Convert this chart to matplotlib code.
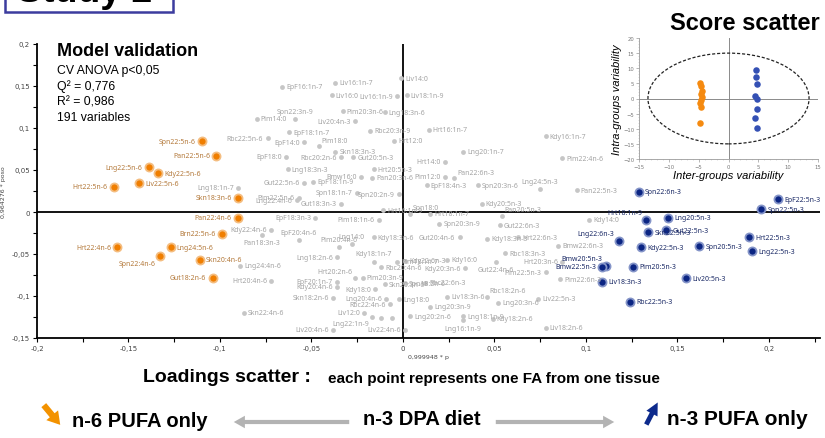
import matplotlib.pyplot as plt
from matplotlib.patches import Ellipse, Rectangle, FancyArrowPatch
from matplotlib.ticker import MultipleLocator, FuncFormatter

# loadings of the n-6 markers (orange)
n6_names = ['Spn22:5n-6', 'Pan22:5n-6', 'Lng22:5n-6', 'Kdy22:5n-6', 'Liv22:5n-6', 'Hrt22:5n-6',
            'Skn18:3n-6', 'Pan22:4n-6', 'Brn22:5n-6', 'Hrt22:4n-6', 'Lng24:5n-6', 'Spn22:4n-6',
            'Skn20:4n-6', 'Gut18:2n-6']
n6_x = [-0.110, -0.102, -0.139, -0.134, -0.144, -0.158, -0.090, -0.090, -0.099, -0.156, -0.127,
        -0.133, -0.111, -0.104]
n6_y = [0.084, 0.067, 0.053, 0.046, 0.034, 0.030, 0.017, -0.007, -0.026, -0.042, -0.042,
        -0.052, -0.057, -0.078]
n6_side = ['l', 'l', 'l', 'r', 'r', 'l', 'l', 'l', 'l', 'l', 'r', 'bl', 'r', 'l']

# loadings of the n-3 markers (blue)
n3_names = ['Spn22:6n-3', 'EpF22:5n-3', 'Spn22:5n-3', 'Hrt18:1n-9', 'Lng20:5n-3', 'Lng22:6n-3',
            'Skn22:5n-3', 'Gut22:5n-3', 'Kdy22:5n-3', 'Spn20:5n-3', 'Hrt22:5n-3', 'Lng22:5n-3',
            'Bmw20:5n-3', 'Bmw22:5n-3', 'Pim20:5n-3', 'Liv18:3n-3', 'Liv20:5n-3', 'Rbc22:5n-3']
n3_x = [0.129, 0.205, 0.196, 0.133, 0.145, 0.118, 0.134, 0.144, 0.130, 0.162, 0.189, 0.191,
        0.111, 0.109, 0.126, 0.109, 0.155, 0.124]
n3_y = [0.024, 0.015, 0.003, -0.010, -0.007, -0.035, -0.024, -0.022, -0.042, -0.041, -0.030,
        -0.047, -0.064, -0.065, -0.065, -0.083, -0.079, -0.107]
n3_side = ['r', 'r', 'r', 'al', 'r', 'al', 'r', 'r', 'r', 'r', 'r', 'r', 'al', 'l', 'r', 'r', 'r', 'r']

# other variables (grey)
oth_names = ['EpF16:1n-7', 'Liv16:1n-7', 'Liv16:0', 'Liv16:1n-9', 'Liv14:0', 'Liv18:1n-9',
             'Spn22:3n-9', 'Pim14:0', 'Pim20:3n-6', 'Lng18:3n-6', 'Liv20:4n-3', 'Rbc20:3n-9',
             'Hrt12:0', 'EpF18:1n-7', 'Rbc22:5n-6', 'EpF14:0', 'Pim18:0', 'EpF18:0',
             'Skn18:3n-3', 'Rbc20:2n-6', 'Gut20:5n-3', 'Lng18:3n-3', 'Hrt20:5n-3', 'Pan20:3n-6',
             'Bmw16:0', 'EpF18:1n-9', 'Gut22:5n-6', 'Spn18:1n-7', 'Spn20:2n-9', 'Pim22:5n-6',
             'Lng22:4n-6', 'Lng18:1n-7', 'Gut18:3n-3', 'Hrt16:1n-9', 'EpF18:3n-3', 'Kdy22:4n-6',
             'EpF20:4n-6', 'Pan18:3n-3', 'Spn18:0', 'Pim18:1n-6', 'Lng14:0', 'Pim20:4n-6',
             'Kdy18:3n-6', 'Kdy18:1n-7', 'Lng18:2n-6', 'Lng24:4n-6', 'Hrt20:4n-6', 'Hrt20:2n-6',
             'Rbc20:4n-6', 'Pim18:1n-7', 'Pim20:3n-9', 'EpF20:1n-7', 'Kdy20:4n-6', 'Skn20:3n-6',
             'Kdy18:0', 'Skn18:2n-6', 'Lng20:4n-6', 'Rbc22:4n-6', 'Skn22:4n-6', 'Liv12:0',
             'Lng22:1n-9', 'Liv20:4n-6', 'Liv22:4n-6',
             'Hrt16:1n-7', 'Kdy16:1n-7', 'Lng20:1n-7', 'Pim22:4n-6', 'Hrt14:0', 'Pan22:6n-3',
             'Pim12:0', 'EpF18:4n-3', 'Lng24:5n-3', 'Pan22:5n-3', 'Spn20:3n-6', 'Hrt18:1n-7',
             'Kdy20:5n-3', 'Pan20:5n-3', 'Kdy14:0', 'Gut22:6n-3', 'Spn20:3n-9', 'Gut20:4n-6',
             'Kdy18:3n-3', 'Hrt22:6n-3', 'Bmw22:6n-3', 'Rbc18:3n-3', 'Hrt20:3n-6', 'Kdy16:0',
             'Kdy22:6n-3', 'Kdy20:3n-6', 'Gut22:4n-6', 'Pim22:5n-3', 'Pim22:6n-3', 'Rbc22:6n-3',
             'Spn18:2n-6', 'Rbc18:2n-6', 'Liv22:5n-3', 'Lng20:3n-6', 'Liv18:3n-6', 'Lng20:3n-9',
             'Lng18:1n-9', 'Kdy18:2n-6', 'Lng16:1n-9', 'Liv18:2n-6', 'Lng20:2n-6', 'Lng18:0',
             '', '']
oth_x = [-0.066, -0.037, -0.039, -0.003, -0.001, 0.002,
         -0.059, -0.080, -0.033, -0.010, -0.026, -0.018,
         -0.005, -0.062, -0.074, -0.054, -0.046, -0.064,
         -0.037, -0.034, -0.027, -0.063, -0.016, -0.017,
         -0.023, -0.049, -0.054, -0.025, -0.002, -0.057,
         -0.058, -0.090, -0.034, -0.011, -0.048, -0.072,
         -0.057, -0.077, 0.004, -0.013, -0.028, -0.035,
         -0.016, -0.016, -0.036, -0.089, -0.072, -0.026,
         -0.012, -0.003, -0.022, -0.036, -0.036, -0.010,
         -0.015, -0.038, -0.009, -0.007, -0.087, -0.021,
         -0.017, -0.038, 0.001,
         0.014, 0.078, 0.033, 0.087, 0.023, 0.028,
         0.023, 0.013, 0.075, 0.095, 0.041, 0.015,
         0.043, 0.054, 0.102, 0.053, 0.020, 0.031,
         0.046, 0.063, 0.085, 0.056, 0.087, 0.024,
         0.001, 0.034, 0.051, 0.078, 0.086, 0.012,
         0.001, 0.046, 0.074, 0.052, 0.024, 0.015,
         0.033, 0.049, 0.033, 0.078, 0.004, -0.002,
         -0.012, -0.006]
oth_y = [0.149, 0.154, 0.139, 0.138, 0.159, 0.139,
         0.111, 0.111, 0.120, 0.119, 0.108, 0.097,
         0.085, 0.095, 0.088, 0.083, 0.078, 0.066,
         0.072, 0.065, 0.065, 0.051, 0.051, 0.041,
         0.042, 0.036, 0.035, 0.023, 0.021, 0.017,
         0.014, 0.029, 0.010, 0.002, -0.007, -0.021,
         -0.033, -0.027, -0.002, -0.009, -0.038, -0.042,
         -0.030, -0.059, -0.054, -0.064, -0.082, -0.078,
         -0.066, -0.059, -0.078, -0.083, -0.089, -0.086,
         -0.092, -0.102, -0.103, -0.110, -0.120, -0.120,
         -0.125, -0.140, -0.140,
         0.098, 0.090, 0.072, 0.064, 0.060, 0.040,
         0.042, 0.032, 0.027, 0.026, 0.032, -0.002,
         0.010, -0.005, -0.009, -0.016, -0.014, -0.030,
         -0.032, -0.030, -0.040, -0.049, -0.059, -0.057,
         -0.058, -0.067, -0.059, -0.072, -0.080, -0.084,
         -0.085, -0.101, -0.103, -0.108, -0.101, -0.113,
         -0.124, -0.127, -0.129, -0.138, -0.124, -0.104,
         -0.126, -0.126]
oth_side = ['r', 'r', 'r', 'l', 'r', 'r',
            'a', 'r', 'r', 'r', 'l', 'r',
            'r', 'r', 'l', 'l', 'ar', 'l',
            'r', 'l', 'r', 'r', 'r', 'r',
            'l', 'r', 'l', 'l', 'l', 'l',
            'l', 'l', 'l', 'r', 'l', 'l',
            'a', 'b', 'ar', 'l', 'a', 'a',
            'r', 'a', 'l', 'r', 'l', 'al',
            'r', 'r', 'r', 'l', 'l', 'r',
            'l', 'l', 'l', 'l', 'r', 'l',
            'bl', 'l', 'l',
            'r', 'r', 'r', 'r', 'l', 'ar',
            'l', 'r', 'a', 'r', 'r', 'r',
            'r', 'ar', 'r', 'r', 'r', 'l',
            'r', 'r', 'r', 'r', 'l', 'r',
            'r', 'l', 'b', 'l', 'r', 'r',
            'r', 'ar', 'r', 'r', 'r', 'r',
            'r', 'r', 'b', 'r', 'r', 'r',
            'r', 'r']

# score scatter (inset)
sc_n6_x = [-4.7, -4.6, -4.5, -4.6, -4.5, -4.6, -4.7, -4.6, -4.7]
sc_n6_y = [5.2, 4.0, 2.6, 1.5, 0.5, -0.6, -1.6, -2.7, -8.0]
sc_n3_x = [4.6, 4.6, 4.7, 4.5, 4.7, 4.7, 4.5, 4.7]
sc_n3_y = [9.4, 7.2, 4.7, 0.7, 0.0, -3.5, -6.4, -9.8]

validation_lines = ['CV ANOVA p<0,05', 'Q² = 0,776', 'R² = 0,986', '191 variables']

LBL = ['Noto Sans', 'DejaVu Sans']
HEAD = ['Liberation Sans', 'DejaVu Sans']

OFFS = {'r': ((3, 0), 'left', 'center'), 'l': ((-3, 0), 'right', 'center'),
        'a': ((0, 3), 'center', 'bottom'), 'b': ((0, -3), 'center', 'top'),
        'ar': ((2, 2), 'left', 'bottom'), 'al': ((-2, 2), 'right', 'bottom'),
        'bl': ((-2, -2), 'right', 'top')}


def put_labels(ax, names, xs, ys, sides, color, pad):
    for n, x, y, s in zip(names, xs, ys, sides):
        if not n:
            continue
        (dx, dy), ha, va = OFFS[s]
        ax.annotate(n, (x, y), xytext=(dx * pad, dy * pad), textcoords='offset points',
                    ha=ha, va=va, fontsize=5, color=color, family=LBL, zorder=5)


def comma(v, pos):
    if abs(v) < 1e-9:
        return '0'
    return ('%g' % round(v, 3)).replace('.', ',')


def fy(py):
    # pixel row from the top -> figure fraction
    return 1 - py / 439


fig = plt.figure(figsize=(8.25, 4.39), dpi=100)
ax = fig.add_axes([37 / 825, 100 / 439, 783 / 825, 294 / 439])

ax.axhline(0, color='black', lw=1.3, zorder=1)
ax.axvline(0, color='black', lw=1.3, zorder=1)

ax.scatter(oth_x, oth_y, s=12, color='#c6c6c6', zorder=3, linewidths=0)
put_labels(ax, oth_names, oth_x, oth_y, oth_side, '#a4a4a4', 1.0)

ax.scatter(n6_x, n6_y, s=34, color='#f07e00', edgecolors='#f4bd80', linewidths=1.3, zorder=4)
put_labels(ax, n6_names, n6_x, n6_y, n6_side, '#b47a3c', 1.5)

ax.scatter(n3_x, n3_y, s=34, color='#0b2583', edgecolors='#8494c8', linewidths=1.3, zorder=4)
put_labels(ax, n3_names, n3_x, n3_y, n3_side, '#1b2a66', 1.5)

ax.set_xlim(-0.2, 0.228)
ax.set_ylim(-0.15, 0.2)
for sp in ['top', 'right']:
    ax.spines[sp].set_visible(False)
for sp in ['left', 'bottom']:
    ax.spines[sp].set_linewidth(1.3)
ax.xaxis.set_major_locator(MultipleLocator(0.05))
ax.xaxis.set_minor_locator(MultipleLocator(0.025))
ax.yaxis.set_major_locator(MultipleLocator(0.05))
ax.yaxis.set_minor_locator(MultipleLocator(0.025))
ax.xaxis.set_major_formatter(FuncFormatter(comma))
ax.yaxis.set_major_formatter(FuncFormatter(comma))
ax.tick_params(which='both', direction='out', length=3, width=0.8, labelsize=5,
               labelcolor='#444444', pad=2)
ax.set_xlabel('0,999948 * p', fontsize=4.5, color='#444444', labelpad=2)
ax.set_ylabel('0,964276 * poso', fontsize=4.5, color='#444444', labelpad=4)
ax.patch.set_alpha(0)

# model validation text block
fig.text(57 / 825, fy(52), 'Model validation', fontsize=13, fontweight='bold',
         family=HEAD, va='center')
for i, t in enumerate(validation_lines):
    fig.text(57 / 825, fy(71 + 15.6 * i), t, fontsize=8.8, family=HEAD, va='center')

# inset: score scatter
ins = fig.add_axes([639 / 825, 279 / 439, 179 / 825, 121 / 439])
ins.set_facecolor('white')
ins.axhline(0, color='#8a8a8a', lw=0.7, zorder=1)
ins.axvline(0, color='#8a8a8a', lw=0.7, zorder=1)
ins.add_patch(Ellipse((0, 0), 27, 30, fill=False, ls=(0, (2.5, 1.5)), lw=0.9, color='#222222'))
ins.scatter(sc_n6_x, sc_n6_y, s=22, color='#f58a10', zorder=3, linewidths=0)
ins.scatter(sc_n3_x, sc_n3_y, s=22, color='#3450b4', zorder=3, linewidths=0)
ins.set_xlim(-15, 15)
ins.set_ylim(-20, 20)
ins.set_xticks(range(-15, 16, 5))
ins.set_yticks(range(-20, 21, 5))
ins.xaxis.set_minor_locator(MultipleLocator(1))
ins.yaxis.set_minor_locator(MultipleLocator(1))
for sp in ['top', 'right']:
    ins.spines[sp].set_visible(False)
for sp in ['left', 'bottom']:
    ins.spines[sp].set_color('#9a9a9a')
    ins.spines[sp].set_linewidth(0.6)
ins.tick_params(which='major', length=2, width=0.5, color='#9a9a9a', labelsize=3.8,
                labelcolor='#777777', pad=1.5)
ins.tick_params(which='minor', length=1, width=0.4, color='#bbbbbb')
ins.set_xlabel('Inter-groups variability', fontsize=8, style='italic', family=HEAD, labelpad=1)
ins.set_ylabel('Intra-groups variability', fontsize=8, style='italic', family=HEAD, labelpad=1)
fig.text(745 / 825, fy(23), 'Score scatter', fontsize=17, fontweight='bold',
         family=HEAD, ha='center', va='center')

# "Study 2" header box, cut by the top edge
fig.add_artist(Rectangle((5 / 825, fy(13)), 168 / 825, 0.2, transform=fig.transFigure,
                         facecolor='white', edgecolor='#3c3c9e', lw=1.8))
fig.text(17 / 825, fy(2), 'Study 2', fontsize=27, fontweight='bold', family=HEAD,
         va='baseline')

# captions below the plot
fig.text(143 / 825, fy(378), 'Loadings scatter : ', fontsize=14, fontweight='bold',
         family=HEAD, va='center')
fig.text(328 / 825, fy(379), 'each point represents one FA from one tissue',
         fontsize=11, fontweight='bold', family=HEAD, va='center')

fig.text(72 / 825, fy(422), 'n-6 PUFA only', fontsize=14.5, fontweight='bold',
         family=HEAD, va='center')
fig.text(422 / 825, fy(420), 'n-3 DPA diet', fontsize=14.5, fontweight='bold',
         family=HEAD, va='center', ha='center')
fig.text(667 / 825, fy(420), 'n-3 PUFA only', fontsize=15, fontweight='bold',
         family=HEAD, va='center')


def fig_arrow(p0, p1, color, style):
    a = FancyArrowPatch((p0[0] / 825, fy(p0[1])), (p1[0] / 825, fy(p1[1])),
                        transform=fig.transFigure, arrowstyle=style, mutation_scale=1,
                        color=color, lw=0)
    fig.add_artist(a)


fig_arrow((352, 423), (231, 423), '#b3b3b3', 'simple,tail_width=3,head_width=9,head_length=8')
fig_arrow((493, 423), (617, 423), '#b3b3b3', 'simple,tail_width=3,head_width=9,head_length=8')
fig_arrow((42, 404), (62, 428), '#f39200', 'simple,tail_width=4.5,head_width=11,head_length=9')
fig_arrow((645, 428), (659, 401), '#0d2a8c', 'simple,tail_width=3.5,head_width=9,head_length=9')

fig.savefig('out.png', dpi=100)
